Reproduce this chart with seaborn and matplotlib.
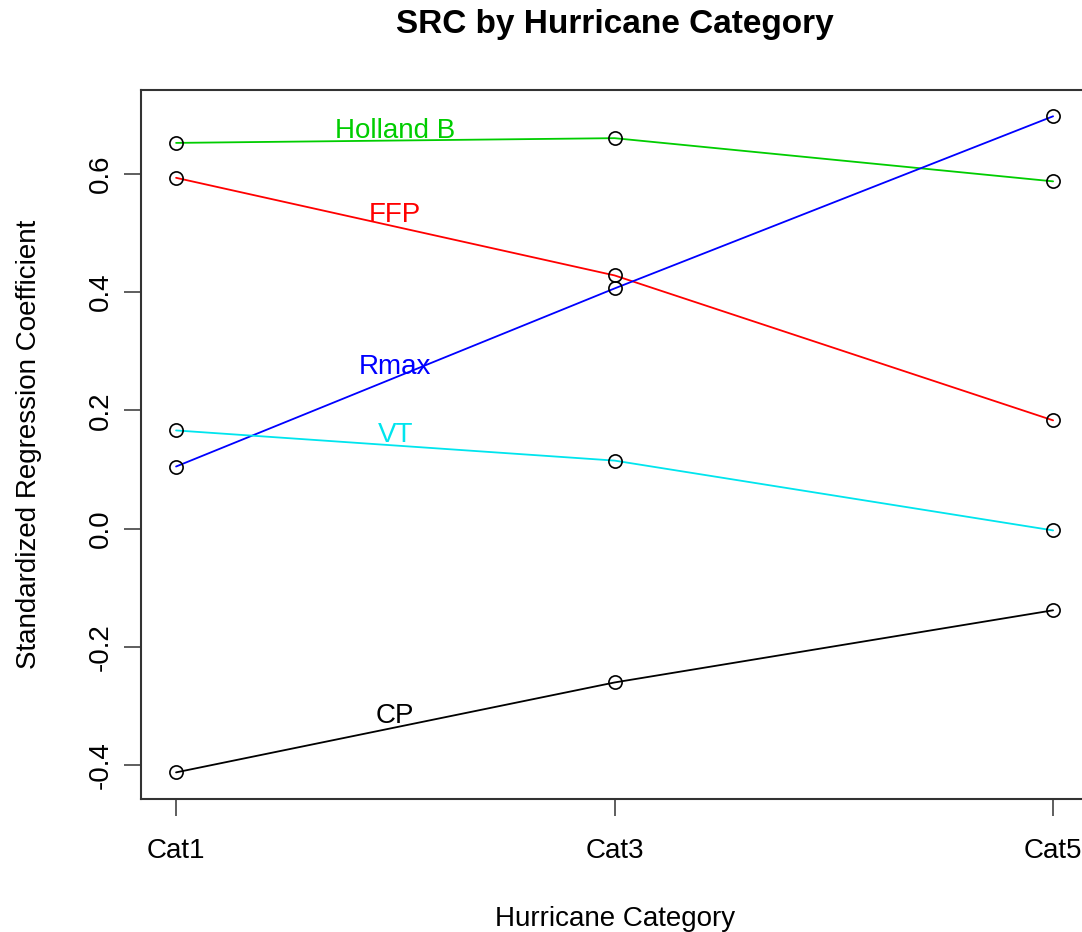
import seaborn as sns
import matplotlib.pyplot as plt
import pandas as pd

sns.set_style("ticks")
plt.rcParams['font.family'] = ['Liberation Sans', 'DejaVu Sans']
plt.rcParams['text.color'] = 'black'
plt.rcParams['axes.labelcolor'] = 'black'

# SRC values
categories = ["Cat1", "Cat3", "Cat5"]
holland_b = [0.652, 0.660, 0.587]
ffp = [0.593, 0.428, 0.183]
rmax = [0.105, 0.406, 0.697]
vt = [0.166, 0.115, -0.003]
cp = [-0.412, -0.260, -0.138]

series_names = ["Holland B", "FFP", "Rmax", "VT", "CP"]
series_colors = {"Holland B": "#00CD00", "FFP": "#FF0000", "Rmax": "#0000FF",
                 "VT": "#00E5EE", "CP": "black"}

# where the line labels sit (x in category index, y at text baseline)
label_x = [0.5, 0.5, 0.5, 0.5, 0.5]
label_y = [0.661, 0.518, 0.262, 0.146, -0.329]

df = pd.DataFrame({
    'category': categories * 5,
    'src': holland_b + ffp + rmax + vt + cp,
    'variable': [n for n in series_names for _ in categories],
})

fig = plt.figure(figsize=(10.82, 9.32), dpi=100)
ax = fig.add_axes([0.1303, 0.1431, 0.8754, 0.7603])

sns.lineplot(data=df, x='category', y='src', hue='variable', hue_order=series_names,
             palette=series_colors, sort=False, legend=False, ax=ax,
             lw=1.3, marker='o', ms=9.5, mfc='none', mec='black', mew=1.2)

for name, lx, ly in zip(series_names, label_x, label_y):
    ax.text(lx, ly, name, color=series_colors[name], fontsize=20,
            ha='center', va='baseline')

# R style 4% padding
lo, hi = df['src'].min(), df['src'].max()
pad = 0.04 * (hi - lo)
ax.set_ylim(lo - pad, hi + pad)
ax.set_xlim(-0.08, 2.08)

ax.set_yticks([-0.4, -0.2, 0.0, 0.2, 0.4, 0.6])
ax.set_yticklabels(['-0.4', '-0.2', '0.0', '0.2', '0.4', '0.6'])
ax.tick_params(axis='both', direction='out', length=12.5, width=1.1,
               colors='#333333', labelcolor='black', labelsize=20)
ax.tick_params(axis='x', pad=16)
ax.tick_params(axis='y', pad=7, labelrotation=90)
for lab in ax.get_yticklabels():
    lab.set_va('center')

for sp in ax.spines.values():
    sp.set_color('#333333')
    sp.set_linewidth(1.5)

ax.set_xlabel('Hurricane Category', fontsize=20)
ax.set_ylabel('Standardized Regression Coefficient', fontsize=20)
ax.xaxis.set_label_coords(0.5, -0.152)
ax.yaxis.set_label_coords(-0.104, 0.5)
ax.set_title('SRC by Hurricane Category', fontsize=24, fontweight='bold', pad=41)

fig.savefig("out.png", dpi=100)
